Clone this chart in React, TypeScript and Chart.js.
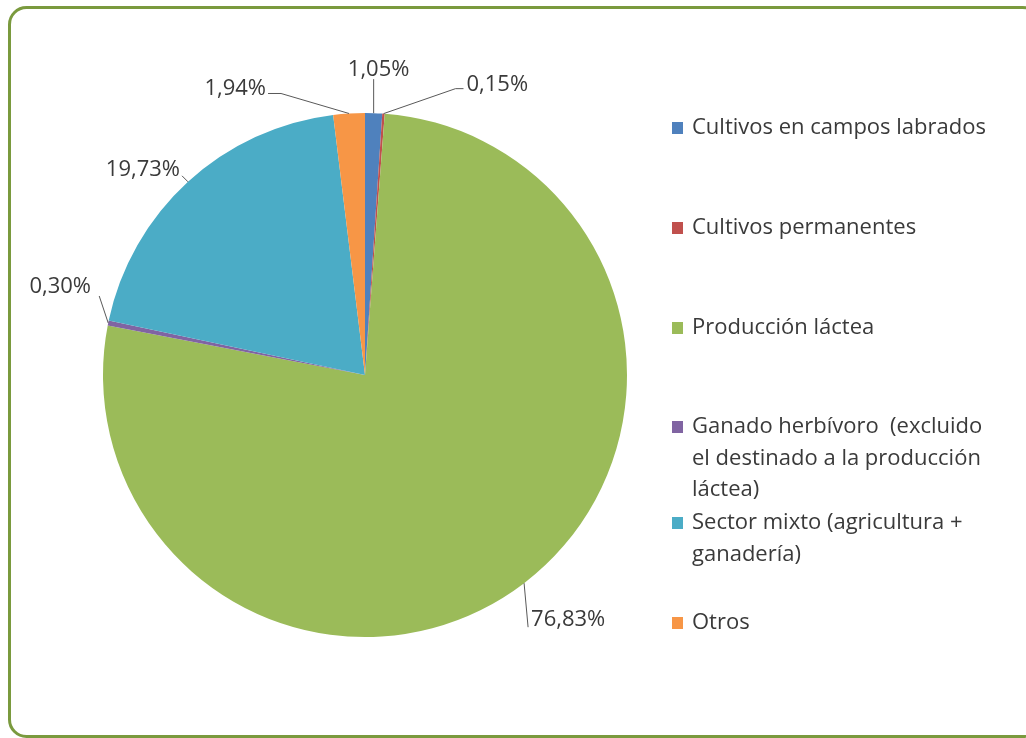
import React, { useEffect, useRef } from "react";
import { Chart, registerables } from "chart.js";

Chart.register(...registerables);

const categories = [
  "Cultivos en campos labrados",
  "Cultivos permanentes",
  "Producción láctea",
  "Ganado herbívoro  (excluido el destinado a la producción láctea)",
  "Sector mixto (agricultura + ganadería)",
  "Otros",
];
const values = [1.05, 0.15, 76.83, 0.3, 19.73, 1.94];
const valueLabels = ["1,05%", "0,15%", "76,83%", "0,30%", "19,73%", "1,94%"];
const colors = ["#4F81BD", "#C0504D", "#9BBB59", "#8064A2", "#4BACC6", "#F79646"];

const FONT = "Open Sans";
const TEXT = "#3A3A3A";

// label placement relative to slice anchor (style only)
const labelPlacement = [
  { dx: 5, dy: -43, align: "center", line: [[0, 0], [0, -34]] },
  { dx: 83, dy: -29, align: "left", line: [[0, 0], [72, -25], [80, -25]] },
  { dx: 7, dy: 37, align: "left", line: [[0, 0], [4, 44]] },
  { dx: -48, dy: -36, align: "center", line: [[0, 0], [-9, -27]] },
  { dx: -8, dy: -12, align: "right", line: [[0, 0], [-6, -6]] },
  { dx: -83, dy: -25, align: "right", line: [[0, 0], [-68, -20], [-81, -20]] },
];

const legendRowsY = [128, 228, 328, 427, 523, 623];

function wrap(ctx: CanvasRenderingContext2D, text: string, maxW: number): string[] {
  const words = text.split(" ");
  const lines: string[] = [];
  let cur = "";
  for (let i = 0; i < words.length; i++) {
    const w = words[i];
    const test = cur === "" ? w : cur + " " + w;
    if (ctx.measureText(test).width > maxW && cur !== "") {
      lines.push(cur);
      cur = w;
    } else {
      cur = test;
    }
  }
  if (cur) lines.push(cur);
  return lines;
}

const decorPlugin = {
  id: "decor",
  beforeDraw(chart: any) {
    const ctx = chart.ctx as CanvasRenderingContext2D;
    ctx.save();
    ctx.fillStyle = "#ffffff";
    ctx.fillRect(0, 0, chart.width, chart.height);
    ctx.strokeStyle = "#7A9A3E";
    ctx.lineWidth = 3;
    ctx.beginPath();
    (ctx as any).roundRect(9.5, 7.5, 1030, 729, 17);
    ctx.stroke();
    ctx.restore();
  },
  afterDraw(chart: any) {
    const ctx = chart.ctx as CanvasRenderingContext2D;
    const meta = chart.getDatasetMeta(0);
    ctx.save();
    ctx.font = `22px "${FONT}"`;
    ctx.fillStyle = TEXT;
    ctx.textBaseline = "middle";
    meta.data.forEach((arc: any, i: number) => {
      const p = arc.getProps(["x", "y", "startAngle", "endAngle", "outerRadius"], true);
      const mid = (p.startAngle + p.endAngle) / 2;
      const ax = p.x + Math.cos(mid) * p.outerRadius;
      const ay = p.y + Math.sin(mid) * p.outerRadius;
      const pl = labelPlacement[i];
      ctx.strokeStyle = "#595959";
      ctx.lineWidth = 1;
      ctx.beginPath();
      pl.line.forEach((pt, k) => {
        if (k === 0) ctx.moveTo(ax + pt[0], ay + pt[1]);
        else ctx.lineTo(ax + pt[0], ay + pt[1]);
      });
      ctx.stroke();
      ctx.textAlign = pl.align as CanvasTextAlign;
      ctx.fillText(valueLabels[i], ax + pl.dx, ay + pl.dy);
    });

    // legend
    const mx = 672;
    const tx = 692;
    const lh = 31.5;
    categories.forEach((c, i) => {
      const lines = wrap(ctx, c, 305);
      const y0 = legendRowsY[i];
      ctx.fillStyle = colors[i];
      ctx.fillRect(mx, y0 - 6, 11, 12);
      ctx.fillStyle = TEXT;
      ctx.textAlign = "left";
      lines.forEach((ln, k) => ctx.fillText(ln, tx, y0 + k * lh));
    });
    ctx.restore();
  },
};

export default function App() {
  const ref = useRef<HTMLCanvasElement | null>(null);
  useEffect(() => {
    document.body.style.margin = "0";
    const chart = new Chart(ref.current as HTMLCanvasElement, {
      type: "pie",
      data: {
        labels: categories,
        datasets: [
          {
            data: values,
            backgroundColor: colors,
            borderWidth: 0,
          },
        ],
      },
      options: {
        responsive: false,
        animation: false,
        layout: { padding: { left: 103, top: 113, right: 399, bottom: 101 } },
        plugins: {
          legend: { display: false },
          tooltip: { enabled: false },
        },
      },
      plugins: [decorPlugin],
    });
    return () => chart.destroy();
  }, []);
  return <canvas ref={ref} width={1026} height={738} />;
}
